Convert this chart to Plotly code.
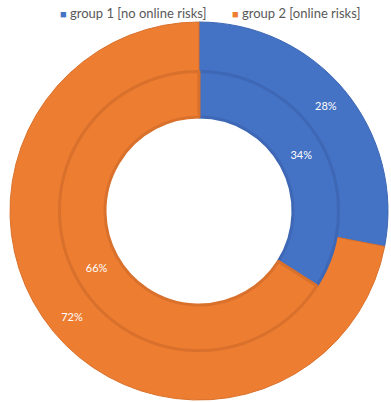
import plotly.graph_objects as go

groups = ["group 1 [no online risks]", "group 2 [online risks]"]
outer_values = [28, 72]
inner_values = [34, 66]
colors = ["#4472C4", "#ED7D31"]
edge_colors = ["#3E68B5", "#D9712C"]

W, H = 391, 402
cx, cy = 199, 211          # ring centre in pixels (from top-left)
r_outer, r_gap, r_mid, r_hole = 189, 140.5, 139.5, 94
legend_x = [58, 230]       # left edge of each legend entry, pixels
legend_y = 13


def domain(r):
    yc = H - cy
    return dict(x=[(cx - r) / W, (cx + r) / W], y=[(yc - r) / H, (yc + r) / H])


label_font = dict(color="white", size=11, family="Lato")

fig = go.Figure()

fig.add_trace(go.Pie(
    labels=groups, values=outer_values, sort=False, direction="clockwise",
    rotation=0, hole=r_gap / r_outer, domain=domain(r_outer),
    marker=dict(colors=colors, line=dict(color=edge_colors, width=1)),
    texttemplate="%{value}%", textposition="inside", insidetextorientation="horizontal",
    textfont=label_font,
    hoverinfo="label+value", showlegend=False,
))

fig.add_trace(go.Pie(
    labels=groups, values=inner_values, sort=False, direction="clockwise",
    rotation=0, hole=r_hole / r_mid, domain=domain(r_mid),
    marker=dict(colors=colors, line=dict(color=edge_colors, width=3)),
    texttemplate="%{value}%", textposition="inside", insidetextorientation="horizontal",
    textfont=label_font,
    hoverinfo="label+value", showlegend=False,
))

# compact legend row: coloured square followed by the group name
for name, color, lx in zip(groups, colors, legend_x):
    fig.add_annotation(
        xref="paper", yref="paper", x=lx / W, y=1 - legend_y / H,
        xanchor="left", yanchor="middle", showarrow=False,
        text=f"<span style='color:{color};font-size:11px'>■</span> {name}",
        font=dict(size=13, color="#595959", family="Lato"),
    )

fig.update_layout(
    width=W, height=H,
    margin=dict(l=0, r=0, t=0, b=0),
    paper_bgcolor="white", plot_bgcolor="white",
    showlegend=False,
)

fig.write_html("out.html")
